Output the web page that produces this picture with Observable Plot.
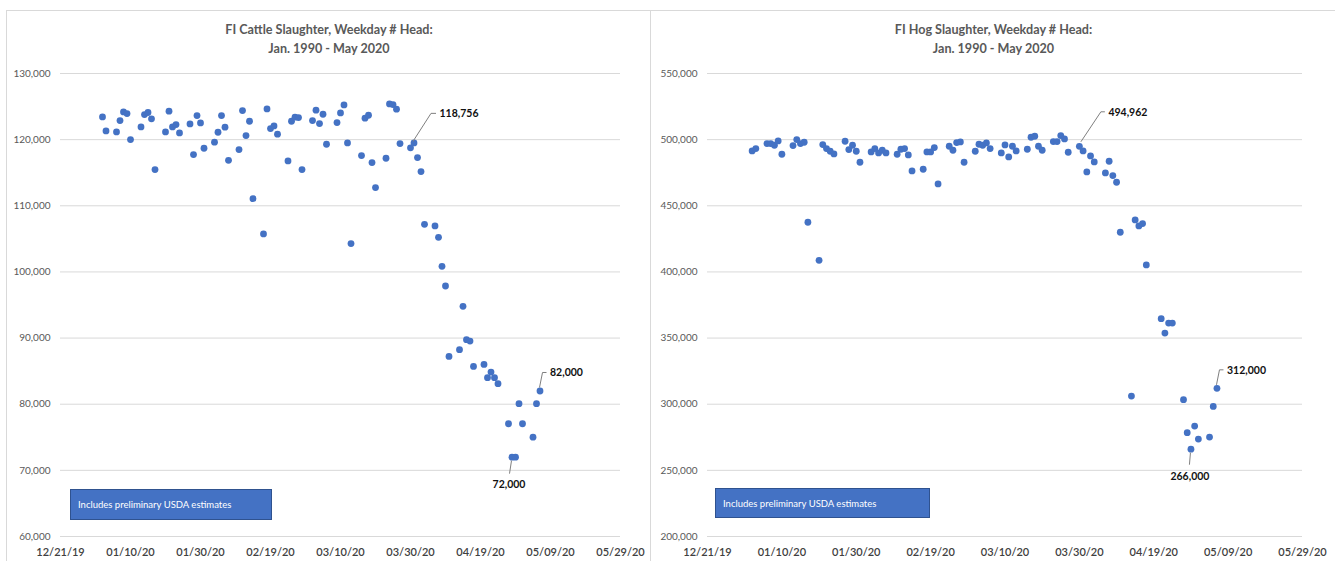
<!DOCTYPE html>
<html>
<head>
<meta charset="utf-8">
<script src="https://cdn.jsdelivr.net/npm/d3@7"></script>
<script src="https://cdn.jsdelivr.net/npm/@observablehq/plot@0.6"></script>
<style>
  html, body { margin: 0; padding: 0; background: #fff; }
  body { width: 1335px; height: 561px; position: relative; overflow: hidden; font-family: Lato, "Open Sans", sans-serif; }
  .frame { position: absolute; border: 1px solid #d9d9d9; pointer-events: none; z-index: 3; box-sizing: border-box; }
  .title { position: absolute; text-align: center; color: #595959; font-weight: bold; font-size: 12.6px; line-height: 19px; z-index: 2; }
  .note { position: absolute; background: #4472C4; border: 1px solid #2F528F; color: #fff; font-size: 9.5px; box-sizing: border-box; padding-left: 7px; display: flex; align-items: center; z-index: 2; }
  svg.chart { position: absolute; top: 0; z-index: 1; }
</style>
</head>
<body>
<div class="frame" style="left:6px; top:10px; width:645px; height:560px;"></div>
<div class="frame" style="left:650px; top:10px; width:700px; height:560px;"></div>
<div class="title" style="left:8px; width:642px; top:20px;">FI Cattle Slaughter, Weekday # Head:<br>Jan. 1990 - May 2020</div>
<div class="title" style="left:652px; width:683px; top:20px;">FI Hog Slaughter, Weekday # Head:<br>Jan. 1990 - May 2020</div>
<div class="note" style="left:70px; top:489px; width:202px; height:31px;">Includes preliminary USDA estimates</div>
<div class="note" style="left:715px; top:488px; width:215px; height:30px;">Includes preliminary USDA estimates</div>
<script>
// ---- data ----
const dates = [
  "2020-01-02","2020-01-03","2020-01-06","2020-01-07","2020-01-08","2020-01-09","2020-01-10",
  "2020-01-13","2020-01-14","2020-01-15","2020-01-16","2020-01-17","2020-01-20","2020-01-21",
  "2020-01-22","2020-01-23","2020-01-24","2020-01-27","2020-01-28","2020-01-29","2020-01-30","2020-01-31",
  "2020-02-03","2020-02-04","2020-02-05","2020-02-06","2020-02-07","2020-02-10","2020-02-11",
  "2020-02-12","2020-02-13","2020-02-14","2020-02-17","2020-02-18","2020-02-19","2020-02-20",
  "2020-02-21","2020-02-24","2020-02-25","2020-02-26","2020-02-27","2020-02-28",
  "2020-03-02","2020-03-03","2020-03-04","2020-03-05","2020-03-06","2020-03-09","2020-03-10",
  "2020-03-11","2020-03-12","2020-03-13","2020-03-16","2020-03-17","2020-03-18","2020-03-19",
  "2020-03-20","2020-03-23","2020-03-24","2020-03-25","2020-03-26","2020-03-27","2020-03-30","2020-03-31",
  "2020-04-01","2020-04-02","2020-04-03","2020-04-06","2020-04-07","2020-04-08","2020-04-09",
  "2020-04-10","2020-04-13","2020-04-14","2020-04-15","2020-04-16","2020-04-17","2020-04-20",
  "2020-04-21","2020-04-22","2020-04-23","2020-04-24","2020-04-27","2020-04-28","2020-04-29","2020-04-30",
  "2020-05-01","2020-05-04","2020-05-05","2020-05-06"
];
const cattleHead = [
  123440,121320,121170,122880,124190,123940,120010,121930,123790,124100,123140,115470,121170,124300,121930,122280,121020,122380,117740,123640,122530,118700,
  119610,121120,123640,121880,116880,118500,124400,120610,122780,111080,105740,124650,121670,122080,120820,116780,122780,123390,123340,115470,
  122880,124450,122430,123840,119300,122580,124040,125250,119500,104280,117590,123240,123690,116530,112750,117190,125400,125300,124600,119400,118756,119500,
  117290,115170,107200,106950,105230,100850,97870,87230,88250,94800,89760,89550,85720,86020,84010,84860,84010,83100,77050,72000,72000,80080,
  77050,75020,80080,82000
];
const hogHead = [
  491490,493250,497030,497030,495770,499050,488970,495520,500060,497030,498040,437540,408800,496280,493250,491240,489220,498800,492500,495770,491240,482920,
  490730,493250,489980,491990,489980,488970,492750,493250,488470,476370,477620,490730,490730,494010,466530,495020,491990,497790,498290,482920,
  491240,496530,495770,497540,493250,489980,496030,486950,495020,491490,492750,501820,502580,495020,491990,498550,498550,503090,500560,490480,494962,491490,
  475610,487710,483170,474850,483670,472830,467790,429980,306140,439300,434760,436530,405270,null,364680,353790,361350,361350,303410,278450,266000,283460,
  273620,275130,298340,312000
];
const xTickLabels = ["12/21/19","01/10/20","01/30/20","02/19/20","03/10/20","03/30/20","04/19/20","05/09/20","05/29/20"];
const cattleYTicks = [60000,70000,80000,90000,100000,110000,120000,130000];
const hogYTicks = [200000,250000,300000,350000,400000,450000,500000,550000];
const cattleLabelDates = ["2020-03-30","2020-04-28","2020-05-06"];
const hogLabelDates = ["2020-03-30","2020-04-29","2020-05-06"];

// ---- build ----
const parseISO = d3.utcParse("%Y-%m-%d");
const parseTick = d3.utcParse("%m/%d/%y");
const rows = dates.map((d, i) => ({date: parseISO(d), cattle: cattleHead[i], hog: hogHead[i]}));
const xTicks = xTickLabels.map(parseTick);
const xDomain = [xTicks[0], xTicks[xTicks.length - 1]];
const fmt = d3.format(",");

// label placement (pixel offsets)
const cattleLayout = [
  {dx: 29, dy: -34, anchor: "start", leader: [[3,-6],[21,-34],[26,-34]]},
  {dx: -3, dy: 27, anchor: "middle", leader: [[0,4],[-2,17]]},
  {dx: 10, dy: -18, anchor: "start", leader: [[0,-3],[3,-18],[7,-18]]}
];
const hogLayout = [
  {dx: 29, dy: -34, anchor: "start", leader: [[2,-4],[22,-34],[26,-34]]},
  {dx: -1, dy: 27, anchor: "middle", leader: [[0,4],[-1,16]]},
  {dx: 10, dy: -18, anchor: "start", leader: [[0,-3],[3,-18],[7,-18]]}
];

function panel({key, yTicks, labelDates, layout, width, left, marginLeft, marginRight}) {
  const pts = rows.filter(r => r[key] != null);
  const labelled = labelDates.map(s => pts.find(r => +r.date === +parseISO(s)));
  const marks = [
    Plot.ruleY(yTicks, {y: d => d, stroke: "#d9d9d9", strokeWidth: 1}),
    Plot.text(yTicks, {x: () => xDomain[0], y: d => d, text: d => fmt(d), textAnchor: "end", dx: -10, fill: "#595959", fontSize: 10}),
    Plot.text(xTicks, {x: d => d, y: () => yTicks[0], text: (d, i) => xTickLabels[i], dy: 16, fill: "#404040", fontSize: 11, fontWeight: 600}),
    Plot.dot(pts, {x: "date", y: key, r: 3.4, fill: "#4472C4", stroke: null})
  ];
  labelled.forEach((r, i) => {
    const L = layout[i];
    marks.push(Plot.text([r], {x: "date", y: key, text: d => fmt(d[key]), dx: L.dx, dy: L.dy, textAnchor: L.anchor, fill: "#111", fontSize: 10.5, fontWeight: "bold"}));
  });
  const svg = Plot.plot({
    width, height: 561,
    marginLeft, marginRight, marginTop: 73, marginBottom: 25,
    style: {background: "transparent", fontFamily: "Lato, sans-serif", overflow: "visible"},
    x: {type: "utc", domain: xDomain, axis: null},
    y: {domain: [yTicks[0], yTicks[yTicks.length - 1]], axis: null},
    marks
  });
  svg.classList.add("chart");
  svg.style.left = left + "px";
  svg.style.maxWidth = "none";
  // leader lines through the plot's own scales
  const sx = svg.scale("x"), sy = svg.scale("y");
  const fx = d3.scaleUtc().domain(sx.domain).range(sx.range);
  const fy = d3.scaleLinear().domain(sy.domain).range(sy.range);
  labelled.forEach((r, i) => {
    const px = fx(r.date), py = fy(r[key]);
    const pth = layout[i].leader.map(([a, b]) => [px + a, py + b]);
    d3.select(svg).append("path")
      .attr("d", d3.line()(pth))
      .attr("fill", "none").attr("stroke", "#7f7f7f").attr("stroke-width", 1);
  });
  document.body.appendChild(svg);
}

panel({key: "cattle", yTicks: cattleYTicks, labelDates: cattleLabelDates, layout: cattleLayout, width: 650, left: 0, marginLeft: 60, marginRight: 30});
panel({key: "hog", yTicks: hogYTicks, labelDates: hogLabelDates, layout: hogLayout, width: 685, left: 650, marginLeft: 57, marginRight: 33});
</script>
</body>
</html>
